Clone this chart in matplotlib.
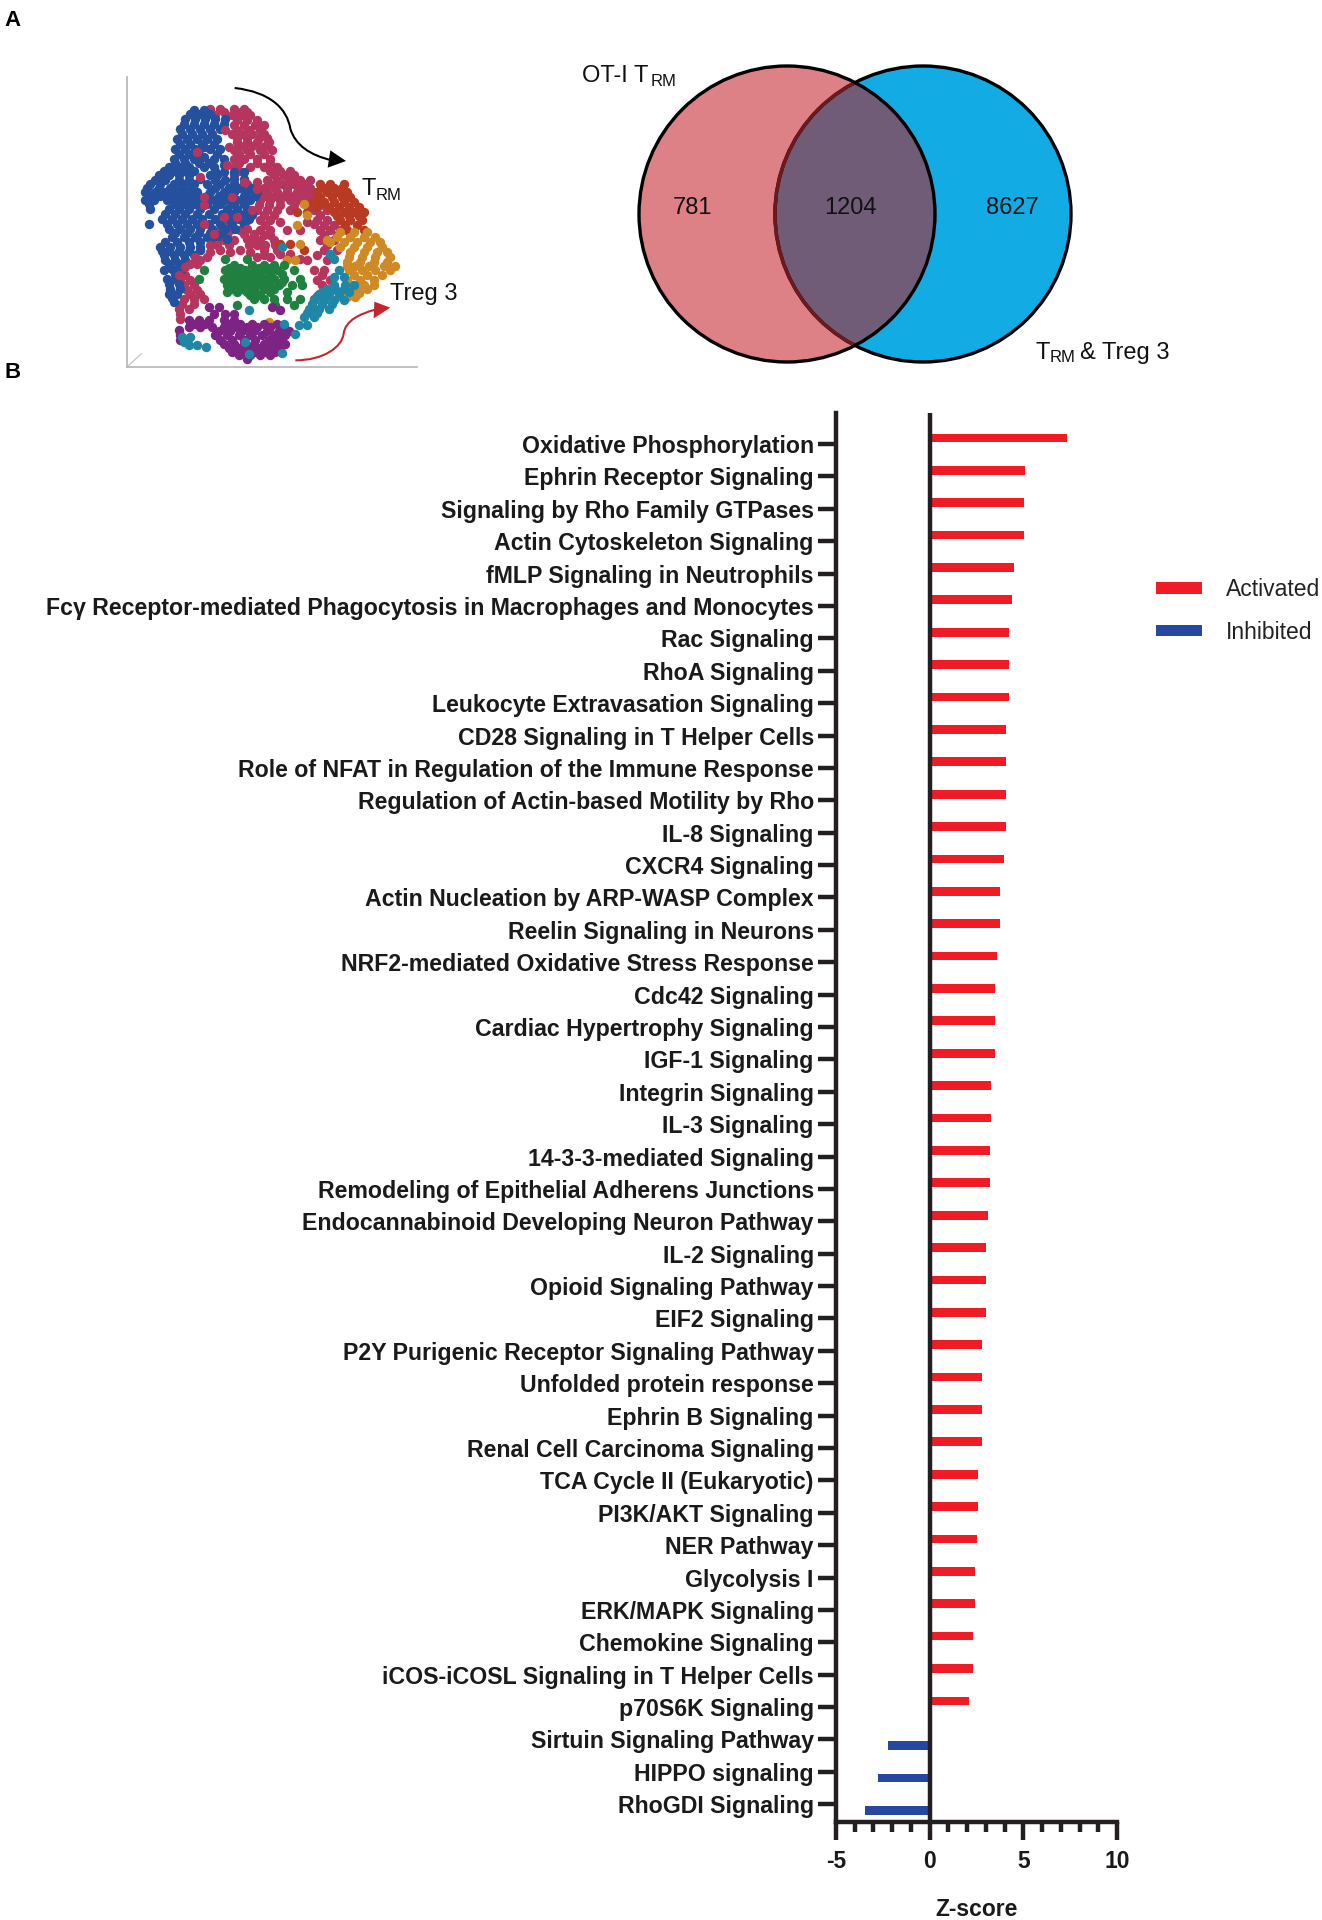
import matplotlib
matplotlib.use("Agg")
import matplotlib.pyplot as plt
from matplotlib.patches import Ellipse, PathPatch, Polygon
from matplotlib.path import Path

plt.rcParams['font.family'] = ['Liberation Sans', 'DejaVu Sans']
plt.rcParams['axes.unicode_minus'] = False

# Pathway z-scores
activated_names = [
    "Oxidative Phosphorylation", "Ephrin Receptor Signaling", "Signaling by Rho Family GTPases",
    "Actin Cytoskeleton Signaling", "fMLP Signaling in Neutrophils",
    "Fcγ Receptor-mediated Phagocytosis in Macrophages and Monocytes", "Rac Signaling", "RhoA Signaling",
    "Leukocyte Extravasation Signaling", "CD28 Signaling in T Helper Cells",
    "Role of NFAT in Regulation of the Immune Response", "Regulation of Actin-based Motility by Rho",
    "IL-8 Signaling", "CXCR4 Signaling", "Actin Nucleation by ARP-WASP Complex", "Reelin Signaling in Neurons",
    "NRF2-mediated Oxidative Stress Response", "Cdc42 Signaling", "Cardiac Hypertrophy Signaling",
    "IGF-1 Signaling", "Integrin Signaling", "IL-3 Signaling", "14-3-3-mediated Signaling",
    "Remodeling of Epithelial Adherens Junctions", "Endocannabinoid Developing Neuron Pathway", "IL-2 Signaling",
    "Opioid Signaling Pathway", "EIF2 Signaling", "P2Y Purigenic Receptor Signaling Pathway",
    "Unfolded protein response", "Ephrin B Signaling", "Renal Cell Carcinoma Signaling",
    "TCA Cycle II (Eukaryotic)", "PI3K/AKT Signaling", "NER Pathway", "Glycolysis I", "ERK/MAPK Signaling",
    "Chemokine Signaling", "iCOS-iCOSL Signaling in T Helper Cells", "p70S6K Signaling",
]
activated_values = [
    7.35, 5.1, 5.05, 5.05, 4.5, 4.4, 4.25, 4.25, 4.25, 4.1,
    4.1, 4.05, 4.05, 3.95, 3.75, 3.75, 3.6, 3.5, 3.5, 3.5,
    3.3, 3.3, 3.2, 3.2, 3.1, 3.0, 3.0, 3.0, 2.8, 2.8,
    2.8, 2.8, 2.6, 2.6, 2.5, 2.4, 2.4, 2.3, 2.3, 2.1,
]
inhibited_names = ["Sirtuin Signaling Pathway", "HIPPO signaling", "RhoGDI Signaling"]
inhibited_values = [-2.25, -2.77, -3.46]

# Venn counts
venn_counts = [781, 1204, 8627]

# UMAP cells, as (y, [x, ...]) rows
blue_rows = [
    (180, [280, 310]), (192, [270, 300, 330]), (205, [255, 285, 315, 345, 375]), (220, [250, 280, 310, 340, 370]),
    (235, [240, 270, 300, 330, 360]), (250, [245, 275, 305, 335]), (265, [230, 260, 290, 320, 350]),
    (280, [240, 270, 305, 340]), (290, [310]), (295, [225, 255, 285, 330, 360]), (310, [235, 265, 295, 350]),
    (320, [310]), (325, [220, 250, 280, 340, 370]), (338, [225, 255, 295, 325]), (345, [370]),
    (350, [205, 235, 265, 310, 340]), (362, [190, 220, 250, 280, 345]), (365, [370, 400, 430]),
    (375, [175, 205, 235, 265, 330, 350]), (385, [300, 400, 430]), (388, [165, 195, 235, 265, 345, 375]),
    (400, [150, 180, 220, 250, 280, 320, 360, 400]), (412, [140, 175, 210, 245, 275, 345, 385, 420, 455]),
    (425, [135, 165, 195, 230, 260, 290, 330, 370, 400, 440, 470]),
    (438, [150, 180, 215, 250, 280, 320, 355, 390, 430, 465]),
    (450, [135, 160, 200, 235, 265, 300, 340, 375, 410, 450]), (462, [145, 220, 250, 285, 320, 360, 395, 430]),
    (475, [150, 205, 235, 265, 300, 340, 380, 410, 440]), (490, [195, 225, 255, 290, 325, 365, 395, 430, 455]),
    (505, [185, 215, 245, 275, 305, 345, 385, 415, 445]), (520, [147, 200, 230, 260, 290, 325, 360, 395, 430]),
    (535, [205, 240, 270, 300, 335, 375, 405]), (548, [225, 260, 295, 330, 365]),
    (560, [215, 250, 285, 320, 350]), (565, [380]), (575, [195, 230, 265, 300, 335]),
    (590, [180, 210, 240, 270, 300]), (600, [300]), (602, [185, 205, 235, 265]), (615, [190, 220, 250, 280]),
    (628, [195, 225, 255]), (640, [205, 235, 265]), (655, [215, 245]), (660, [190]), (670, [225]),
    (685, [200, 225]), (700, [205, 235]), (715, [210, 240]), (730, [205, 230]), (742, [215]), (755, [220]),
]
crimson_rows = [
    (175, [330, 360, 400, 430]), (185, [370, 410, 440]), (195, [345, 395, 425, 450]), (210, [410, 440, 470]),
    (225, [400, 430, 465, 490]), (238, [410, 445, 480]), (250, [395, 425, 455, 490]),
    (262, [410, 440, 475, 500]), (275, [410, 440, 470, 505]), (288, [420, 455, 495]),
    (300, [400, 440, 480, 515]), (312, [415, 450, 490]), (325, [400, 430, 470, 510]), (338, [415, 470, 510]),
    (350, [400, 450, 490, 530]), (362, [415, 510, 540, 570]), (375, [400, 520, 550, 580]),
    (388, [500, 530, 565, 600, 630]), (400, [400, 440, 510, 545, 580, 610]),
    (412, [385, 420, 490, 525, 560, 600, 630]), (425, [380, 500, 530, 560, 590, 620, 650]),
    (438, [370, 490, 520, 550, 580, 610, 640]), (450, [360, 480, 510, 540, 570, 600, 630]),
    (465, [475, 505, 540, 580, 620, 660]), (480, [470, 500, 530, 570, 640, 680]),
    (495, [455, 490, 520, 660]), (510, [440, 480, 510, 650, 680]), (525, [370, 430, 495, 670, 700]),
    (540, [360, 390, 420, 480, 510, 660, 690, 720]), (555, [380, 490, 510, 670, 710]),
    (570, [370, 400, 480, 520, 660, 700]), (585, [385, 495, 525, 680]), (600, [300, 360, 420, 490, 530, 670, 710]),
    (615, [490, 650, 690]), (630, [300, 620, 680]), (660, [230, 640, 670]), (675, [255, 665]),
    (690, [240, 270, 650, 690]), (705, [250, 280, 665]), (720, [260, 290, 680]), (732, [270, 300, 655]),
    (745, [250, 280, 310, 640, 670]), (760, [245, 280]), (775, [235, 265, 640]), (790, [240]), (805, [240]),
]
# crimson cells lying over the blue ones
speckle_rows = [
    (240, [375]), (290, [385]), (305, [290]), (345, [380]), (380, [300]), (395, [430, 470]), (415, [470]),
    (440, [310, 395]), (465, [310]), (480, [455]), (500, [370, 410]), (515, [540, 620]), (520, [310, 640]),
    (535, [440]), (540, [560, 600]), (550, [340, 430, 460]), (565, [440, 460]), (585, [330, 350, 445, 470]),
    (605, [330, 390, 450]), (610, [540, 570]), (620, [285, 320, 470, 510]), (625, [560, 600]),
    (640, [270, 290]), (650, [255]), (675, [235]),
]
rust_rows = [
    (400, [660, 690, 730]), (412, [670, 700, 725]), (425, [650, 680, 710, 740]), (440, [660, 695, 725, 750]),
    (455, [640, 670, 700, 730, 760]), (470, [650, 685, 715, 745, 775]), (485, [590, 620, 700, 730, 760, 790]),
    (498, [710, 745, 775]), (510, [720, 750, 785]), (525, [735, 770]), (540, [740, 790]), (580, [540, 570]),
    (600, [610]),
]
orange_rows = [
    (460, [610]), (495, [620]), (525, [590]), (545, [720, 760, 800]), (560, [710, 750, 790, 825]), (570, [680]),
    (575, [690, 730, 770, 810, 840]), (580, [600]), (590, [720, 760, 800, 845]), (605, [750, 790, 830, 860]),
    (620, [745, 785, 825, 870]), (630, [560, 585]), (635, [740, 780, 820, 860]),
    (648, [740, 765, 805, 850, 885]), (660, [745, 785, 825, 870]), (675, [760, 800, 845]),
    (690, [740, 780, 820]), (703, [755, 790, 820]), (715, [745, 770, 800]), (728, [750, 775]),
    (740, [740, 765]), (815, [505]),
]
green_rows = [
    (625, [375, 440]), (645, [400, 455, 490, 520, 550]), (652, [385, 420, 475, 510]),
    (660, [310, 375, 405, 435, 465, 500, 530, 580]), (672, [385, 420, 450, 480, 510, 545]),
    (685, [295, 370, 400, 430, 460, 490, 520, 550, 600]), (695, [385, 415, 445, 480, 510, 545]),
    (705, [380, 410, 440, 470, 500, 535, 575, 605]), (715, [395, 425, 455, 490, 520]),
    (725, [380, 410, 440, 465, 510, 560]), (735, [450, 480]), (745, [460, 490, 520, 560, 600]),
    (765, [410, 525, 580]),
]
teal_rows = [
    (590, [545]), (610, [690]), (625, [700]), (660, [715]), (680, [700, 730]), (705, [700, 735, 760]),
    (715, [680, 705, 730]), (725, [665, 690, 715, 745]), (738, [650, 680, 715]), (750, [640, 670, 700, 730]),
    (762, [635, 665, 695]), (775, [625, 655, 685]), (780, [445]), (788, [620, 650]), (800, [610, 640]),
    (820, [550]), (825, [595, 620]), (850, [585]), (860, [245, 270]), (875, [250, 435]), (885, [265, 290]),
    (890, [318]), (908, [545]), (910, [445]),
]
purple_rows = [
    (770, [325, 355, 515]), (778, [540]), (790, [340, 375, 400]), (810, [265, 295, 325, 370, 400]),
    (820, [280, 315, 385, 420, 455, 490, 530]), (830, [265, 300, 335, 370, 405, 440, 470, 510, 550]),
    (840, [235]), (842, [355, 390, 425, 460, 500, 535, 565]), (855, [240, 345, 380, 415, 450, 485, 520, 555]),
    (868, [360, 395, 430, 465, 505, 540]), (870, [240]), (880, [370, 400, 430, 460, 490, 525, 555]),
    (892, [385, 415, 445, 480, 510, 540]), (905, [395, 425, 460, 495, 525]), (915, [415, 450, 480, 510]),
    (925, [440]),
]

RED = "#ef1c25"
BLUE = "#26499f"
INK = "#231f20"
W, H = 1322, 1920


def px_axes(left, top, right, bottom):
    return fig.add_axes([left / W, 1 - bottom / H, (right - left) / W, (bottom - top) / H])


def expand(rows):
    xs, ys = [], []
    for y, row in rows:
        for x in row:
            xs.append(x)
            ys.append(y)
    return xs, ys


def sub_label(ax, x, y, main, sub, sub_x, sub_y, rest=None, rest_x=None):
    ax.text(x, y, main, fontsize=17, va="center", color="#111111")
    ax.text(sub_x, sub_y, sub, fontsize=12, va="center", color="#111111")
    if rest:
        ax.text(rest_x, y, rest, fontsize=17, va="center", color="#111111")


fig = plt.figure(figsize=(W / 100, H / 100), dpi=100)

# overlay in pixel units for the annotations of panel A
ax_top = fig.add_axes([0, 0, 1, 1])
ax_top.set_xlim(0, W)
ax_top.set_ylim(H, 0)
ax_top.axis("off")
ax_top.text(4, 20, "A", fontsize=16, fontweight="bold", va="center")
ax_top.text(4, 373, "B", fontsize=16, fontweight="bold", va="center")

# UMAP
ax_u = px_axes(127, 77, 417, 367)
ax_u.set_xlim(80, 950)
ax_u.set_ylim(950, 80)
ax_u.patch.set_alpha(0)
for s in ["top", "right"]:
    ax_u.spines[s].set_visible(False)
for s in ["left", "bottom"]:
    ax_u.spines[s].set_color("#b5b5b5")
    ax_u.spines[s].set_linewidth(1.2)
ax_u.set_xticks([])
ax_u.set_yticks([])
ax_u.plot([80, 123], [950, 910], color="#c4c4c4", lw=0.9)

clusters = [
    (crimson_rows, "#b5355f"), (blue_rows, "#24509e"), (speckle_rows, "#b5355f"), (rust_rows, "#b93a22"),
    (orange_rows, "#cf8a25"), (green_rows, "#1f8040"), (purple_rows, "#7c2384"), (teal_rows, "#1f87a5"),
]
for rows, colour in clusters:
    xs, ys = expand(rows)
    ax_u.scatter(xs, ys, s=46, color=colour, linewidths=0, clip_on=False)

black_curve = Path([(403, 113), (510, 125), (560, 175), (570, 235), (585, 285), (630, 315), (695, 330)],
                   [Path.MOVETO] + [Path.CURVE4] * 6)
ax_u.add_patch(PathPatch(black_curve, fc="none", ec="black", lw=1.5))
ax_u.add_patch(Polygon([(690, 300), (737, 332), (682, 352)], fc="black", ec="none"))
red_curve = Path([(585, 930), (670, 930), (725, 890), (730, 850), (735, 810), (780, 790), (825, 778)],
                 [Path.MOVETO] + [Path.CURVE4] * 6)
ax_u.add_patch(PathPatch(red_curve, fc="none", ec="#c1272d", lw=1.5))
ax_u.add_patch(Polygon([(822, 754), (870, 772), (820, 804)], fc="#c1272d", ec="none"))

sub_label(ax_top, 361, 189, "T", "RM", 376, 195)
ax_top.text(390, 294, "Treg 3", fontsize=17, va="center", color="#111111")

# Venn
left_c, right_c = (787, 214), (923, 214)
ew, eh = 296, 296
ax_top.add_patch(Ellipse(left_c, ew, eh, fc="#dd8187", ec="none"))
ax_top.add_patch(Ellipse(right_c, ew, eh, fc="#13abe4", ec="none"))
left_clip = Ellipse(left_c, ew, eh, transform=ax_top.transData)
overlap = Ellipse(right_c, ew, eh, fc="#715c78", ec="none")
ax_top.add_patch(overlap)
overlap.set_clip_path(left_clip)
ax_top.add_patch(Ellipse(right_c, ew, eh, fc="none", ec="black", lw=2.4))
inner_arc = Ellipse(right_c, ew, eh, fc="none", ec="#6b1a20", lw=2.6)
ax_top.add_patch(inner_arc)
inner_arc.set_clip_path(Ellipse(left_c, ew - 2, eh - 2, transform=ax_top.transData))
ax_top.add_patch(Ellipse(left_c, ew, eh, fc="none", ec="black", lw=2.4))
for cx, n in zip([692, 850, 1012], venn_counts):
    ax_top.text(cx, 208, str(n), fontsize=17, ha="center", va="center", color="#111111")
sub_label(ax_top, 582, 76, "OT-I T", "RM", 651, 82)
sub_label(ax_top, 1036, 353, "T", "RM", 1050, 358, "& Treg 3", 1080)

# Bar chart
ax = px_axes(836, 413, 1117, 1822)
names = activated_names + inhibited_names
offset = 0.19
ax.barh([i - offset for i in range(len(activated_values))], activated_values, height=0.27, color=RED,
        label="Activated")
ax.barh([len(activated_values) + i + offset for i in range(len(inhibited_values))], inhibited_values,
        height=0.27, color=BLUE, label="Inhibited")
ax.axvline(0, color=INK, lw=3.2, zorder=5)
ax.set_xlim(-5, 10)
ax.set_ylim(42.55, -0.96)
ax.set_yticks(range(len(names)))
ax.set_yticklabels(names, fontsize=16.7, fontweight="bold", color="#1a1a1a")
ax.set_xticks([-5, 0, 5, 10])
ax.set_xticks(range(-5, 11), minor=True)
ax.tick_params(axis="x", which="major", length=13, width=3.2, color=INK, labelsize=16.5, pad=7)
ax.tick_params(axis="x", which="minor", length=7.5, width=3.2, color=INK)
ax.tick_params(axis="y", length=13, width=3.2, color=INK, pad=3)
for lab in ax.get_xticklabels():
    lab.set_fontweight("bold")
    lab.set_color("#1a1a1a")
for s in ["top", "right"]:
    ax.spines[s].set_visible(False)
for s in ["left", "bottom"]:
    ax.spines[s].set_linewidth(3.2)
    ax.spines[s].set_color(INK)
ax.set_xlabel("Z-score", fontsize=16.5, fontweight="bold", color="#1a1a1a", labelpad=18)
ax.patch.set_alpha(0)

ax.legend(loc="upper left", bbox_to_anchor=(1138 / W, 1 - 560 / H), bbox_transform=fig.transFigure,
          frameon=False, fontsize=16.5, handlelength=2.0, handleheight=0.4, handletextpad=1.05,
          labelspacing=0.85, borderpad=0.3, labelcolor="#222222")

fig.savefig("out.png", dpi=100)
